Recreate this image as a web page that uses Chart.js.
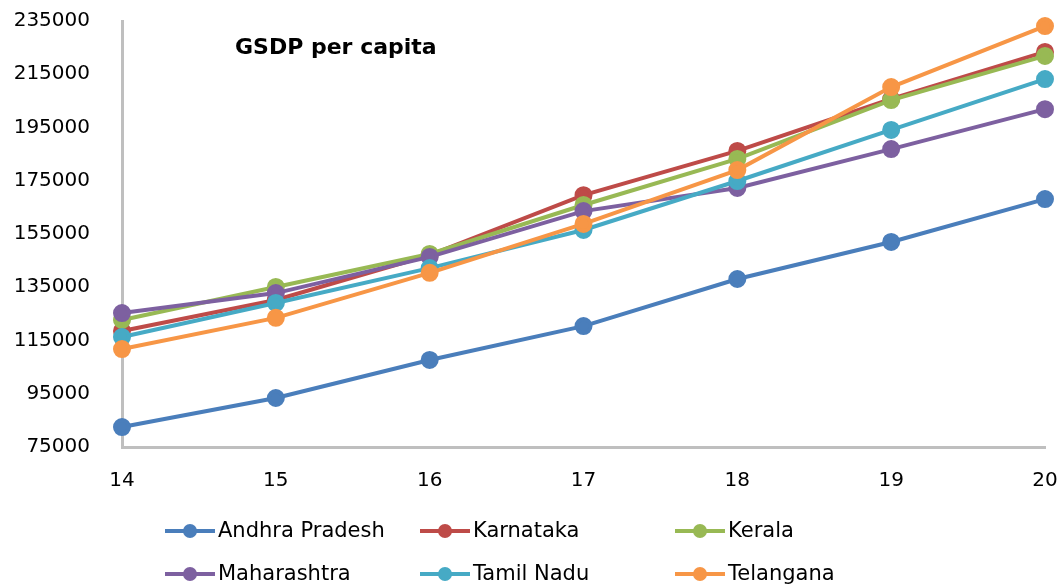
<!DOCTYPE html>
<html>
<head>
<meta charset="utf-8">
<script src="https://cdn.jsdelivr.net/npm/chart.js@4/dist/chart.umd.min.js"></script>
<style>
  html, body { margin: 0; padding: 0; background: #fff; }
  #wrap { width: 1061px; height: 587px; position: relative; }
</style>
</head>
<body>
<div id="wrap"><canvas id="chart"></canvas></div>
<script>
// data
var years = ['14', '15', '16', '17', '18', '19', '20'];
var yTicks = [75000, 95000, 115000, 135000, 155000, 175000, 195000, 215000, 235000];

var andhraPradesh = [82500, 93400, 107700, 120400, 138100, 152000, 168100];
var karnataka     = [118600, 130200, 147100, 169600, 186200, 205700, 223400];
var kerala        = [122700, 135100, 147500, 165900, 183200, 205300, 221900];
var maharashtra   = [125300, 132800, 146400, 163600, 172300, 186900, 201900];
var tamilNadu     = [116300, 129100, 142200, 156500, 174900, 194100, 213200];
var telangana     = [111800, 123500, 140400, 158800, 179000, 210200, 233100];

var names  = ['Andhra Pradesh', 'Karnataka', 'Kerala', 'Maharashtra', 'Tamil Nadu', 'Telangana'];
var series = [andhraPradesh, karnataka, kerala, maharashtra, tamilNadu, telangana];
var colors = ['#4a7ebb', '#be4b48', '#98b954', '#7d60a0', '#46aac5', '#f79646'];

var FONT = '"DejaVu Sans", sans-serif';

var datasets = series.map(function(s, i){
  return {
    label: names[i],
    data: s,
    borderColor: colors[i],
    backgroundColor: colors[i],
    pointBackgroundColor: colors[i],
    pointBorderColor: colors[i],
    borderWidth: 4,
    pointRadius: 7,
    pointHoverRadius: 7,
    tension: 0,
    clip: false,
    order: series.length - i //later series drawn on top
  };
});

//title inside plot + legend grid below
var extras = {
  id: 'extras',
  afterDraw: function(chart){
    var ctx = chart.ctx;
    ctx.save();
    ctx.fillStyle = '#000';
    ctx.font = 'bold 22px ' + FONT;
    ctx.textBaseline = 'middle';
    ctx.textAlign = 'left';
    ctx.fillText('GSDP per capita', 235, 48);

    ctx.font = '21px ' + FONT;
    var colX = [165, 420, 675], rowY = [531, 574];
    chart.data.datasets.forEach(function(d, i){
      var x = colX[i % 3], y = rowY[Math.floor(i / 3)];
      ctx.strokeStyle = d.borderColor;
      ctx.lineWidth = 4;
      ctx.beginPath();
      ctx.moveTo(x, y);
      ctx.lineTo(x + 50, y);
      ctx.stroke();
      ctx.fillStyle = d.borderColor;
      ctx.beginPath();
      ctx.arc(x + 25, y, 7, 0, Math.PI * 2);
      ctx.fill();
      ctx.fillStyle = '#000';
      ctx.fillText(d.label, x + 53, y + 1);
    });
    ctx.restore();
  }
};

new Chart(document.getElementById('chart'), {
  type: 'line',
  data: { labels: years, datasets: datasets },
  options: {
    responsive: true,
    maintainAspectRatio: false,
    animation: false,
    layout: { padding: { top: 21, right: 16, bottom: 90, left: 0 } },
    plugins: { legend: { display: false }, tooltip: { enabled: false } },
    scales: {
      x: {
        offset: false,
        grid: { display: false, drawTicks: false },
        border: { color: '#bfbfbf', width: 3 },
        ticks: { color: '#000', font: { family: FONT, size: 20 }, padding: 22, maxRotation: 0 },
        afterFit: function(scale){
          scale.height = 50;
          scale.paddingLeft = 0;
          scale.paddingRight = 0; //let the last label hang over
        }
      },
      y: {
        min: 75000,
        max: 235000,
        grid: { display: false, drawTicks: false },
        border: { color: '#bfbfbf', width: 3 },
        afterBuildTicks: function(scale){
          scale.ticks = yTicks.map(function(v){ return { value: v }; });
        },
        ticks: {
          color: '#000',
          font: { family: FONT, size: 20 },
          padding: 32,
          callback: function(v){ return String(v); }
        },
        afterFit: function(scale){
          scale.width = 122;
          scale.paddingTop = 0;
          scale.paddingBottom = 0;
        }
      }
    }
  },
  plugins: [extras]
});
</script>
</body>
</html>
